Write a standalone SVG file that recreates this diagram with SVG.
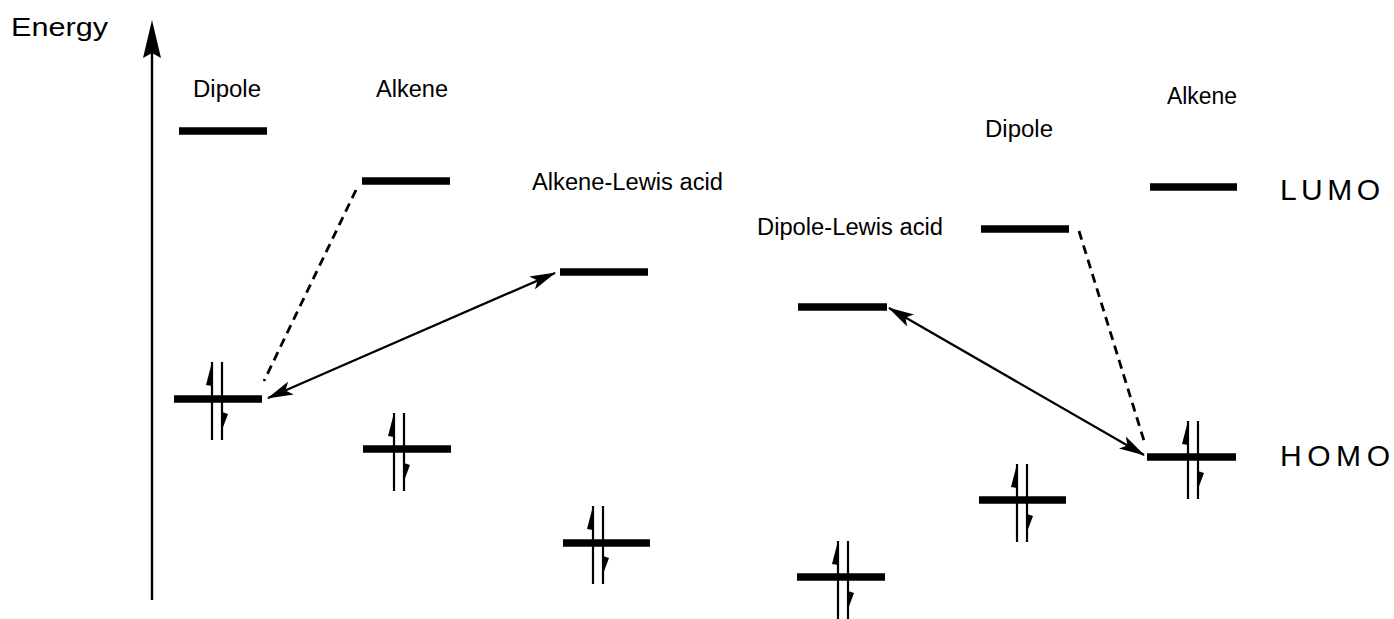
<svg xmlns="http://www.w3.org/2000/svg" width="1394" height="619" viewBox="0 0 1394 619">
<style>
.lbl{font-family:"Liberation Sans",Arial,sans-serif;font-size:23px;fill:#000}
.big{font-family:"Liberation Sans",Arial,sans-serif;font-size:30px;fill:#000}
.bar{stroke:#000;stroke-width:7.5;fill:none}
.sp{stroke:#000;stroke-width:2.2;fill:none}
.dash{stroke:#000;stroke-width:2.8;stroke-dasharray:9 6;fill:none}
.arr{stroke:#000;stroke-width:2.3;fill:none;marker-start:url(#ah);marker-end:url(#ah)}
</style>
<defs>
<marker id="ah" viewBox="0 0 26 14" refX="25" refY="7" markerWidth="26" markerHeight="14" markerUnits="userSpaceOnUse" orient="auto-start-reverse">
<path d="M0,0 L26,7 L0,14 L6,7 Z" fill="#000"/>
</marker>
<g id="spin">
<line class="sp" x1="0" y1="-37" x2="0" y2="41"/>
<line class="sp" x1="10" y1="-37" x2="10" y2="41"/>
<path d="M0,-37 L0,-13 L-6,-14 Z" fill="#000"/>
<path d="M10,31 L10,13 L16,15 Z" fill="#000"/>
</g>
</defs>
<rect width="1394" height="619" fill="#fff"/>
<g id="axis">
<line x1="152" y1="600" x2="152" y2="50" stroke="#000" stroke-width="2.4"/>
<path d="M152,20 L161,58 L152,53 L143,58 Z" fill="#000"/>
<text class="lbl" x="11" y="36" textLength="97" lengthAdjust="spacingAndGlyphs" style="font-size:25px">Energy</text>
</g>
<g id="labels">
<text class="lbl" x="193" y="97" textLength="68" lengthAdjust="spacingAndGlyphs">Dipole</text>
<text class="lbl" x="376" y="97" textLength="72" lengthAdjust="spacingAndGlyphs">Alkene</text>
<text class="lbl" x="532" y="190" textLength="191" lengthAdjust="spacingAndGlyphs">Alkene-Lewis acid</text>
<text class="lbl" x="757" y="235" textLength="186" lengthAdjust="spacingAndGlyphs">Dipole-Lewis acid</text>
<text class="lbl" x="985" y="137" textLength="68" lengthAdjust="spacingAndGlyphs">Dipole</text>
<text class="lbl" x="1167" y="104" textLength="70" lengthAdjust="spacingAndGlyphs">Alkene</text>
<text class="big" x="1280" y="200" textLength="100" lengthAdjust="spacing">LUMO</text>
<text class="big" x="1280" y="466" textLength="110" lengthAdjust="spacing">HOMO</text>
</g>
<g id="dipole-left">
<line class="bar" x1="179" y1="131" x2="267" y2="131"/>
<line class="bar" x1="174" y1="399" x2="262" y2="399"/>
<use href="#spin" x="212" y="399"/>
</g>
<g id="alkene-left">
<line class="bar" x1="362" y1="181" x2="450" y2="181"/>
<line class="bar" x1="363" y1="449" x2="451" y2="449"/>
<use href="#spin" x="394" y="450"/>
</g>
<g id="alkene-lewis-acid">
<line class="bar" x1="560" y1="272" x2="648" y2="272"/>
<line class="bar" x1="563" y1="543" x2="650" y2="543"/>
<use href="#spin" x="593" y="543"/>
</g>
<g id="dipole-lewis-acid">
<line class="bar" x1="798" y1="307" x2="887" y2="307"/>
<line class="bar" x1="797" y1="577" x2="885" y2="577"/>
<use href="#spin" x="838" y="578"/>
</g>
<g id="dipole-right">
<line class="bar" x1="981" y1="229" x2="1069" y2="229"/>
<line class="bar" x1="979" y1="500" x2="1066" y2="500"/>
<use href="#spin" x="1017" y="501"/>
</g>
<g id="alkene-right">
<line class="bar" x1="1150" y1="187" x2="1237" y2="187"/>
<line class="bar" x1="1147" y1="457" x2="1236" y2="457"/>
<use href="#spin" x="1188" y="458"/>
</g>
<g id="connectors">
<line class="dash" x1="356" y1="190" x2="264" y2="381"/>
<line class="dash" x1="1079" y1="231" x2="1145" y2="444"/>
<line class="arr" x1="268" y1="398" x2="555" y2="273"/>
<line class="arr" x1="889" y1="308" x2="1144" y2="455"/>
</g>
</svg>
